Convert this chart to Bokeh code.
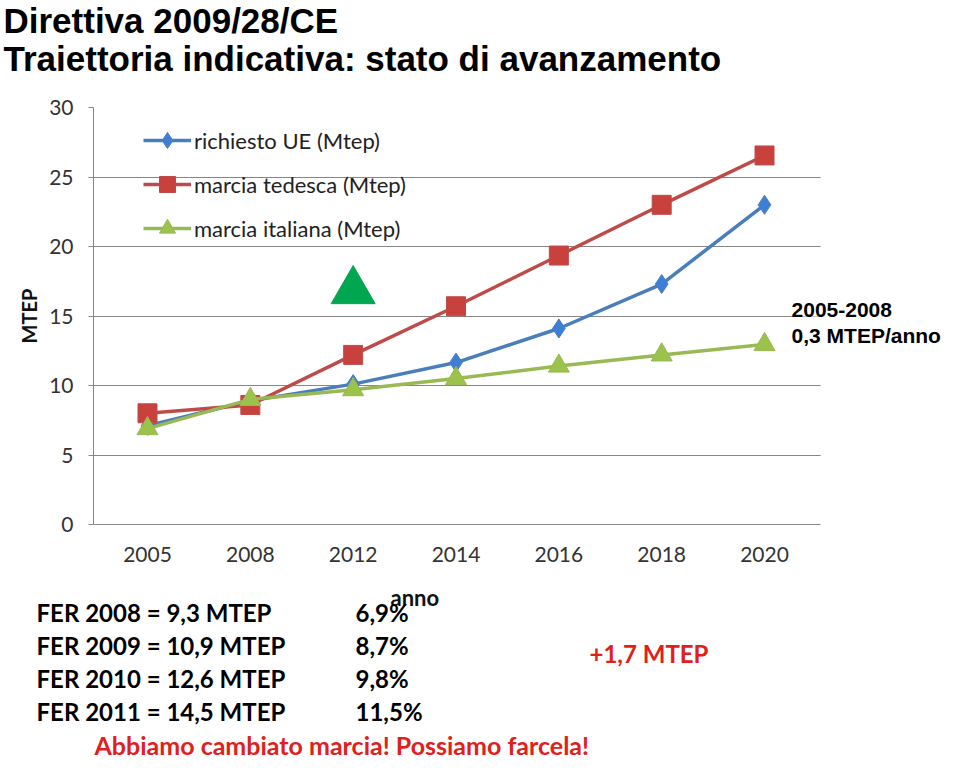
from bokeh.plotting import figure
from bokeh.models import Range1d, Label, FixedTicker, BoxAnnotation
from bokeh.layouts import column
from bokeh.core.properties import value
from bokeh.embed import file_html
from bokeh.resources import INLINE

# ---- data ----
years = ["2005", "2008", "2012", "2014", "2016", "2018", "2020"]
richiesto_ue = [7.1, 8.9, 10.1, 11.65, 14.1, 17.3, 23.0]
marcia_tedesca = [8.0, 8.6, 12.2, 15.7, 19.35, 23.0, 26.55]
marcia_italiana = [6.9, 9.0, 9.7, 10.5, 11.4, 12.2, 12.95]
y_ticks = [0, 5, 10, 15, 20, 25, 30]
highlight_year = "2012"
highlight_value = [16.8]

title_lines = ["Direttiva 2009/28/CE", "Traiettoria indicativa: stato di avanzamento"]
note_lines = ["2005-2008", "0,3 MTEP/anno"]
fer_lines = ["FER 2008 = 9,3 MTEP", "FER 2009 = 10,9 MTEP", "FER 2010 = 12,6 MTEP", "FER 2011 = 14,5 MTEP"]
fer_pct = ["6,9%", "8,7%", "9,8%", "11,5%"]
delta_text = "+1,7 MTEP"
slogan = "Abbiamo cambiato marcia! Possiamo farcela!"

xs = list(range(len(years)))
hx = [years.index(highlight_year)]

W = 944
TOP_H, CHART_H, BOT_H = 92, 486, 181
RED_TXT = "#e0201b"


def no_align(fig):
    if "frame_align" in fig.properties():
        fig.frame_align = False


def text_figure(h):
    f = figure(width=W, height=h, x_range=Range1d(0, W), y_range=Range1d(h, 0),
               output_backend="svg", toolbar_location=None, min_border=0,
               x_axis_location=None, y_axis_location=None)
    f.grid.visible = False
    f.outline_line_color = None
    no_align(f)
    return f


# ---------- title figure ----------
t = text_figure(TOP_H)
t.text(x=[3, 3], y=[20, 58], text=title_lines, text_font=value("Liberation Sans"),
       text_font_style="bold", text_font_size="35px", text_color="black",
       text_baseline="middle", text_align="left")

# ---------- chart figure ----------
GRID = "#868686"
XL, XR = -0.525, 6.545
p = figure(width=W, height=CHART_H, x_range=Range1d(XL, 7.75), y_range=Range1d(0, 30),
           output_backend="svg", toolbar_location=None,
           min_border_left=93, min_border_right=0, min_border_top=15, min_border_bottom=54)
no_align(p)
p.outline_line_color = None
p.xgrid.grid_line_color = None
p.ygrid.grid_line_color = GRID
p.ygrid.grid_line_width = 1

p.yaxis.ticker = FixedTicker(ticks=y_ticks)
p.yaxis.axis_line_color = GRID
p.yaxis.major_tick_line_color = GRID
p.yaxis.major_tick_out = 5
p.yaxis.major_tick_in = 0
p.yaxis.minor_tick_line_color = None
p.yaxis.major_label_standoff = 15
p.yaxis.major_label_text_font = "Lato"
p.yaxis.major_label_text_font_size = "21px"
p.yaxis.major_label_text_color = "#333333"
p.yaxis.axis_label = "MTEP"
p.yaxis.axis_label_text_font = "Lato"
p.yaxis.axis_label_text_font_style = "bold"
p.yaxis.axis_label_text_font_size = "20px"
p.yaxis.axis_label_text_color = "#111111"
p.yaxis.axis_label_standoff = 5

p.xaxis.ticker = FixedTicker(ticks=xs)
p.xaxis.major_label_overrides = {i: y for i, y in zip(xs, years)}
p.xaxis.bounds = (XL, XR)
p.xaxis.axis_line_color = GRID
p.xaxis.axis_line_width = 1
p.xaxis.major_tick_line_color = None
p.xaxis.minor_tick_line_color = None
p.xaxis.major_tick_out = 0
p.xaxis.major_label_standoff = 22
p.xaxis.major_label_text_font = "Lato"
p.xaxis.major_label_text_font_size = "21px"
p.xaxis.major_label_text_color = "#333333"

BLUE, BLUE_FILL = "#4a7ebb", "#3d7fd6"
RED, RED_FILL = "#be4b48", "#c8413c"
GREEN, GREEN_FILL = "#98b954", "#9bc24a"

p.line(xs, richiesto_ue, line_color=BLUE, line_width=3.5, legend_label="richiesto UE (Mtep)")
p.scatter(xs, richiesto_ue, marker="diamond", size=19,
          fill_color=BLUE_FILL, line_color=BLUE, legend_label="richiesto UE (Mtep)")
p.line(xs, marcia_tedesca, line_color=RED, line_width=3.5, legend_label="marcia tedesca (Mtep)")
p.scatter(xs, marcia_tedesca, marker="square", size=19,
          fill_color=RED_FILL, line_color=RED, legend_label="marcia tedesca (Mtep)")
p.line(xs, marcia_italiana, line_color=GREEN, line_width=3.5, legend_label="marcia italiana (Mtep)")
p.scatter(xs, marcia_italiana, marker="triangle", size=21,
          fill_color=GREEN_FILL, line_color=GREEN, legend_label="marcia italiana (Mtep)")

p.scatter(hx, highlight_value, marker="triangle", size=44,
          fill_color="#00a650", line_color="#00a650")

# white area right of the plot area
p.add_layout(BoxAnnotation(left=XR, fill_color="white", fill_alpha=1.0, line_color=None))

leg = p.legend[0]
leg.location = (50, 276)
leg.margin = 0
leg.padding = 0
leg.spacing = 4
leg.glyph_width = 48
leg.glyph_height = 40
leg.label_height = 22
leg.label_standoff = 3
leg.label_text_font = "Lato"
leg.label_text_font_size = "22px"
leg.label_text_color = "#222222"
leg.border_line_color = None
leg.background_fill_alpha = 0


def ydat(py):
    return (524 - py) / 417 * 30


def xdat(px):
    return (px - 147) / 102.83


for line_txt, cy in zip(note_lines, [309, 335]):
    p.add_layout(Label(x=xdat(791), y=ydat(cy), text=line_txt, text_font="Liberation Sans",
                       text_font_style="bold", text_font_size="21px", text_color="black",
                       text_baseline="middle", background_fill_color="white"))

# ---------- bottom figure ----------
b = text_figure(BOT_H)
Y0 = TOP_H + CHART_H
b.text(x=[390], y=[597 - Y0], text=["anno"], text_font=value("Lato"), text_font_style="bold",
       text_font_size="22px", text_color="#111111", text_baseline="middle")
fer_y = [612 - Y0 + 33 * i for i in range(len(fer_lines))]
b.text(x=[36] * len(fer_lines), y=fer_y, text=fer_lines, text_font=value("Lato"),
       text_font_style="bold", text_font_size="24px", text_color="black", text_baseline="middle")
b.text(x=[355] * len(fer_pct), y=fer_y, text=fer_pct, text_font=value("Lato"),
       text_font_style="bold", text_font_size="24px", text_color="black", text_baseline="middle")
b.text(x=[589], y=[653 - Y0], text=[delta_text], text_font=value("Lato"),
       text_font_style="bold", text_font_size="24px", text_color=RED_TXT, text_baseline="middle")
b.text(x=[94], y=[744 - Y0], text=[slogan], text_font=value("Lato"),
       text_font_style="bold", text_font_size="25px", text_color=RED_TXT, text_baseline="middle")

layout = column(t, p, b, spacing=0)
open("out.html", "w").write(file_html(layout, INLINE))
